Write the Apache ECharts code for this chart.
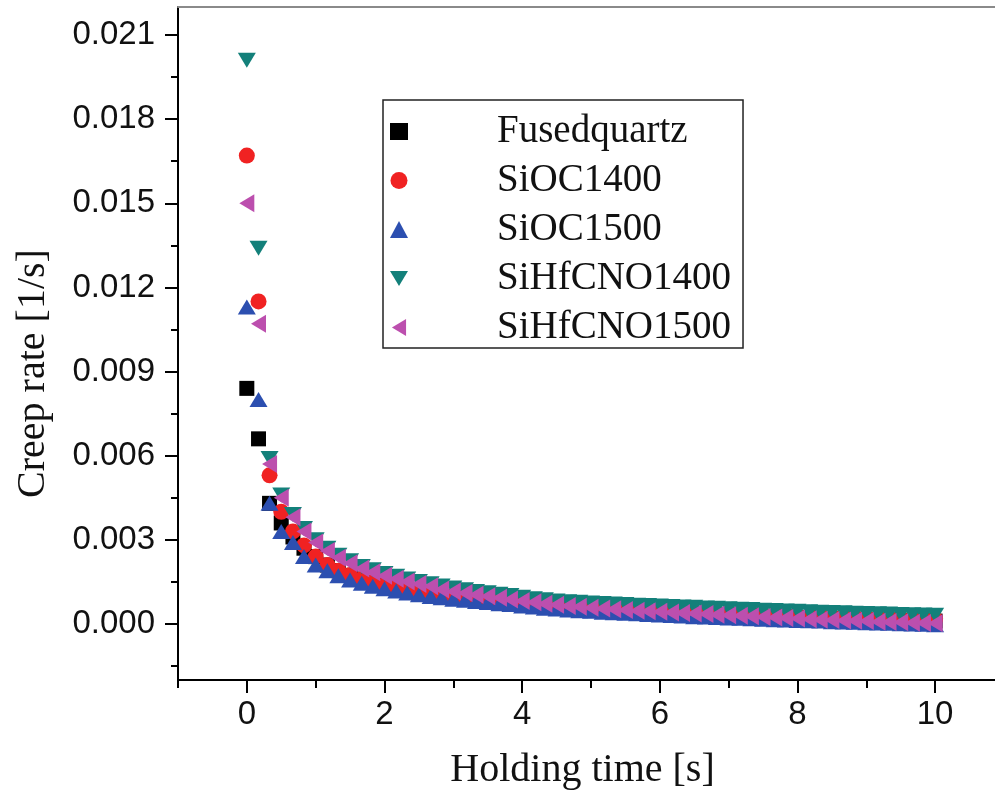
<!DOCTYPE html>
<html lang="en">
  <head>
    <meta charset="utf-8" />
    <title>Creep rate</title>
    <script src="https://cdn.jsdelivr.net/npm/echarts@6/dist/echarts.min.js"></script>
    <style>
      html, body { margin: 0; padding: 0; background: #fff; }
      #main { width: 995px; height: 801px; }
    </style>
  </head>
  <body>
    <div id="main"></div>
    <script>
      // holding time [s]
      var time = [0, 0.17, 0.33, 0.5, 0.67, 0.83, 1, 1.17, 1.33, 1.5, 1.67, 1.83, 2, 2.17, 2.33, 2.5,
        2.67, 2.83, 3, 3.17, 3.33, 3.5, 3.67, 3.83, 4, 4.17, 4.33, 4.5, 4.67, 4.83, 5, 5.17, 5.33,
        5.5, 5.67, 5.83, 6, 6.17, 6.33, 6.5, 6.67, 6.83, 7, 7.17, 7.33, 7.5, 7.67, 7.83, 8, 8.17,
        8.33, 8.5, 8.67, 8.83, 9, 9.17, 9.33, 9.5, 9.67, 9.83, 10];

      // creep rate [1/s]
      var fusedquartz = [0.0084, 0.0066, 0.0043, 0.0036, 0.0031, 0.0027, 0.0024, 0.0021, 0.0019,
        0.00173, 0.0016, 0.00148, 0.00138, 0.00129, 0.00121, 0.00114, 0.00108, 0.00102, 0.00097,
        0.00092, 0.00088, 0.00084, 0.0008, 0.00077, 0.00074, 0.0007, 0.00067, 0.00064, 0.00061,
        0.00058, 0.00056, 0.00053, 0.00051, 0.00049, 0.00047, 0.00045, 0.00043, 0.00041, 0.00039,
        0.00037, 0.00036, 0.00034, 0.00032, 0.00031, 0.00029, 0.00028, 0.00026, 0.00025, 0.00023,
        0.00022, 0.00021, 0.0002, 0.00018, 0.00017, 0.00016, 0.00015, 0.00014, 0.00013, 0.00012,
        0.00011, 0.0001];
      var sioc1400 = [0.0167, 0.0115, 0.0053, 0.004, 0.0033, 0.0028, 0.0024, 0.0021, 0.0019, 0.00174,
        0.0016, 0.00149, 0.00139, 0.0013, 0.00122, 0.00115, 0.00109, 0.00103, 0.00098, 0.00094,
        0.0009, 0.00086, 0.00082, 0.00079, 0.00076, 0.00073, 0.0007, 0.00067, 0.00064, 0.00062,
        0.00059, 0.00057, 0.00054, 0.00052, 0.0005, 0.00048, 0.00046, 0.00044, 0.00043, 0.00041,
        0.00039, 0.00038, 0.00036, 0.00035, 0.00034, 0.00032, 0.00031, 0.0003, 0.00029, 0.00028,
        0.00027, 0.00026, 0.00025, 0.00024, 0.00023, 0.00022, 0.00021, 0.0002, 0.00019, 0.00018,
        0.00018];
      var sioc1500 = [0.0113, 0.008, 0.0043, 0.0033, 0.0029, 0.0024, 0.0021, 0.0019, 0.00172,
        0.00157, 0.00145, 0.00134, 0.00125, 0.00117, 0.0011, 0.00104, 0.00098, 0.00093, 0.00088,
        0.00084, 0.0008, 0.00076, 0.00072, 0.00069, 0.00064, 0.0006, 0.00056, 0.00053, 0.0005,
        0.00047, 0.00045, 0.00042, 0.0004, 0.00038, 0.00036, 0.00034, 0.00032, 0.0003, 0.00028,
        0.00026, 0.00025, 0.00023, 0.00021, 0.0002, 0.00018, 0.00017, 0.00015, 0.00014, 0.00012,
        0.00011, 0.0001, 0.00008, 0.00007, 0.00006, 0.00004, 0.00003, 0.00002, 0.00001, 0,
        -0.00001, -0.00003];
      var sihfcno1400 = [0.0201, 0.0134, 0.0059, 0.0046, 0.0039, 0.0034, 0.003, 0.0027, 0.00245,
        0.00225, 0.00205, 0.00193, 0.0018, 0.0017, 0.0016, 0.00151, 0.00143, 0.00135, 0.00128,
        0.00122, 0.00116, 0.00111, 0.00106, 0.00101, 0.00095, 0.0009, 0.00086, 0.00082, 0.00079,
        0.00077, 0.00075, 0.00073, 0.00071, 0.00069, 0.00067, 0.00066, 0.00064, 0.00062, 0.0006,
        0.00059, 0.00057, 0.00056, 0.00054, 0.00052, 0.00051, 0.00049, 0.00048, 0.00046, 0.00045,
        0.00043, 0.00042, 0.00041, 0.0004, 0.00038, 0.00037, 0.00036, 0.00035, 0.00034, 0.00033,
        0.00032, 0.00031];
      var sihfcno1500 = [0.015, 0.0107, 0.0057, 0.0045, 0.0038, 0.0033, 0.0029, 0.0026, 0.00236,
        0.00216, 0.00198, 0.00184, 0.00172, 0.00161, 0.00151, 0.00142, 0.00134, 0.00123, 0.00116,
        0.0011, 0.00104, 0.00099, 0.00093, 0.00087, 0.00082, 0.00077, 0.00072, 0.00068, 0.00064,
        0.00061, 0.00058, 0.00055, 0.00052, 0.0005, 0.00047, 0.00045, 0.00043, 0.00041, 0.00039,
        0.00037, 0.00035, 0.00033, 0.00031, 0.00029, 0.00027, 0.00025, 0.00023, 0.00021, 0.00019,
        0.00017, 0.00015, 0.00014, 0.00012, 0.00011, 0.0001, 0.00008, 0.00007, 0.00006, 0.00004,
        0.00003, 0.00002];

      var seriesNames = ["Fusedquartz", "SiOC1400", "SiOC1500", "SiHfCNO1400", "SiHfCNO1500"];

      // axis ticks (x range is cut by the right edge of the picture)
      var xMin = -1;
      var xMax = 10.87;
      var xLabels = [0, 2, 4, 6, 8, 10];
      var xMinorTicks = [-1, 1, 3, 5, 7, 9];
      var yMin = -0.002;
      var yMax = 0.022;
      var yLabels = [0, 0.003, 0.006, 0.009, 0.012, 0.015, 0.018, 0.021];
      var yMinorTicks = [-0.0015, 0.0015, 0.0045, 0.0075, 0.0105, 0.0135, 0.0165, 0.0195];

      function pairs(ys) {
        return time.map(function (t, i) {
          return [t, ys[i]];
        });
      }

      var sansFont = "'Liberation Sans', Arial, sans-serif";
      var serifFont = "'Liberation Serif', 'Times New Roman', serif";

      // legend icons for the rotated triangles
      var downTriangle = "path://M0,0 L18,0 L9,15 Z";
      var leftTriangle = "path://M15,0 L15,18 L0,9 Z";

      var chart = echarts.init(document.getElementById("main"), null, { renderer: "canvas" });

      var option = {
        backgroundColor: "#ffffff",
        animation: false,
        grid: { left: 178, top: 7, right: 0, height: 673 },
        legend: {
          orient: "vertical",
          left: 383,
          top: 100,
          data: [
            { name: seriesNames[0], icon: "rect" },
            { name: seriesNames[1], icon: "circle" },
            { name: seriesNames[2], icon: "triangle" },
            { name: seriesNames[3], icon: downTriangle },
            { name: seriesNames[4], icon: leftTriangle }
          ],
          backgroundColor: "#ffffff",
          borderColor: "#222222",
          borderWidth: 1.5,
          padding: [12, 12, 1, 7],
          itemGap: 10,
          itemWidth: 18,
          itemHeight: 17,
          textStyle: {
            fontFamily: serifFont,
            fontSize: 39,
            color: "#111111",
            padding: [0, 0, 0, 84]
          }
        },
        xAxis: [
          {
            type: "value",
            min: xMin,
            max: xMax,
            position: "bottom",
            name: "Holding time [s]",
            nameLocation: "middle",
            nameGap: 70,
            nameTextStyle: {
              fontFamily: serifFont,
              fontSize: 40,
              color: "#111111",
              padding: [0, 8, 0, 0]
            },
            axisLine: { onZero: false, lineStyle: { color: "#000000", width: 2 } },
            axisTick: { customValues: xLabels, length: 13, lineStyle: { color: "#000000", width: 2 } },
            axisLabel: {
              customValues: xLabels,
              margin: 18,
              fontFamily: sansFont,
              fontSize: 33,
              color: "#111111"
            },
            splitLine: { show: false }
          },
          {
            type: "value",
            min: xMin,
            max: xMax,
            position: "bottom",
            axisLine: { show: false, onZero: false },
            axisTick: { customValues: xMinorTicks, length: 8, lineStyle: { color: "#000000", width: 2 } },
            axisLabel: { show: false },
            splitLine: { show: false }
          },
          {
            type: "value",
            min: xMin,
            max: xMax,
            position: "top",
            axisLine: { onZero: false, lineStyle: { color: "#8a8a8a", width: 2 } },
            axisTick: { show: false },
            axisLabel: { show: false },
            splitLine: { show: false }
          }
        ],
        yAxis: [
          {
            type: "value",
            min: yMin,
            max: yMax,
            position: "left",
            name: "Creep rate [1/s]",
            nameLocation: "middle",
            nameGap: 125,
            nameTextStyle: {
              fontFamily: serifFont,
              fontSize: 40,
              color: "#111111",
              padding: [0, 60, 0, 0]
            },
            axisLine: { onZero: false, lineStyle: { color: "#000000", width: 2 } },
            axisTick: { customValues: yLabels, length: 13, lineStyle: { color: "#000000", width: 2 } },
            axisLabel: {
              customValues: yLabels,
              margin: 23,
              fontFamily: sansFont,
              fontSize: 33,
              color: "#111111",
              formatter: function (v) {
                return v.toFixed(3);
              }
            },
            splitLine: { show: false }
          },
          {
            type: "value",
            min: yMin,
            max: yMax,
            position: "left",
            axisLine: { show: false, onZero: false },
            axisTick: { customValues: yMinorTicks, length: 7, lineStyle: { color: "#000000", width: 2 } },
            axisLabel: { show: false },
            splitLine: { show: false }
          }
        ],
        series: [
          {
            name: seriesNames[0],
            type: "scatter",
            data: pairs(fusedquartz),
            symbol: "rect",
            symbolSize: 15,
            itemStyle: { color: "#000000", opacity: 1 }
          },
          {
            name: seriesNames[1],
            type: "scatter",
            data: pairs(sioc1400),
            symbol: "circle",
            symbolSize: 16,
            itemStyle: { color: "#f02222", opacity: 1 }
          },
          {
            name: seriesNames[2],
            type: "scatter",
            data: pairs(sioc1500),
            symbol: "triangle",
            symbolSize: [18, 15],
            itemStyle: { color: "#2c4fb0", opacity: 1 }
          },
          {
            name: seriesNames[3],
            type: "scatter",
            data: pairs(sihfcno1400),
            symbol: "triangle",
            symbolRotate: 180,
            symbolSize: [18, 15],
            itemStyle: { color: "#13807a", opacity: 1 }
          },
          {
            name: seriesNames[4],
            type: "scatter",
            data: pairs(sihfcno1500),
            symbol: "triangle",
            symbolRotate: 90,
            symbolSize: [18, 15],
            itemStyle: { color: "#bc4fae", opacity: 1 }
          }
        ]
      };

      chart.setOption(option);
    </script>
  </body>
</html>
